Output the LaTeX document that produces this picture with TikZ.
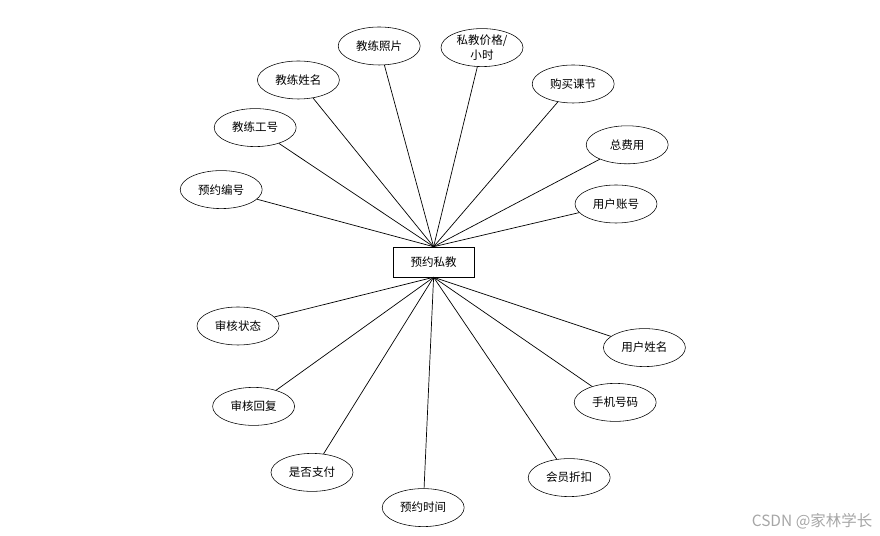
\documentclass[tikz,border=0pt]{standalone}
\usepackage{fontspec}
\newfontfamily\cjk{Noto Sans CJK SC}
\usepackage{xcolor}
\usetikzlibrary{shapes.geometric}

\begin{document}
\begin{tikzpicture}[
  attr/.style={ellipse, draw, thin, minimum width=2.05cm, minimum height=0.95cm,
    inner sep=0pt, font=\cjk\fontsize{8.2}{11}\selectfont, align=center},
  entity/.style={rectangle, draw, thin, minimum width=2.03cm, minimum height=0.75cm,
    inner sep=0pt, font=\cjk\fontsize{8.2}{11}\selectfont},
  link/.style={line width=0.5pt}]
  \useasboundingbox (0,0) rectangle (22,13.4);
  % entity in the middle
  \node[entity] (yy) at (10.84,6.85) {预约私教};
  % attributes above
  \node[attr] (ydbh) at (5.53,8.66) {预约编号};
  \node[attr] (jlgh) at (6.38,10.21) {教练工号};
  \node[attr] (jlxm) at (7.46,11.4) {教练姓名};
  \node[attr] (jlzp) at (9.48,12.25) {教练照片};
  \node[attr] (sjjg) at (12.05,12.21) {私教价格/\\小时};
  \node[attr] (gmkj) at (14.33,11.3) {购买课节};
  \node[attr] (zfy) at (15.68,9.78) {总费用};
  \node[attr] (yhzh) at (15.4,8.3) {用户账号};
  % attributes below
  \node[attr] (shzt) at (5.95,5.25) {审核状态};
  \node[attr] (shhf) at (6.34,3.24) {审核回复};
  \node[attr] (sfzf) at (7.8,1.59) {是否支付};
  \node[attr] (ydsj) at (10.58,0.71) {预约时间};
  \node[attr] (hyzk) at (14.23,1.46) {会员折扣};
  \node[attr] (sjhm) at (15.38,3.34) {手机号码};
  \node[attr] (yhxm) at (16.11,4.71) {用户姓名};
  % connectors
  \foreach \a in {ydbh,jlgh,jlxm,jlzp,sjjg,gmkj,zfy,yhzh}
    \draw[link] (yy.north) -- (\a);
  \foreach \a in {shzt,shhf,sfzf,ydsj,hyzk,sjhm,yhxm}
    \draw[link] (yy.south) -- (\a);
  % watermark
  \node[font=\cjk\fontsize{11}{13}\selectfont, text=black!35, anchor=east] (wm) at (21.93,0.38) {CSDN @家林学长};
\end{tikzpicture}
\end{document}
